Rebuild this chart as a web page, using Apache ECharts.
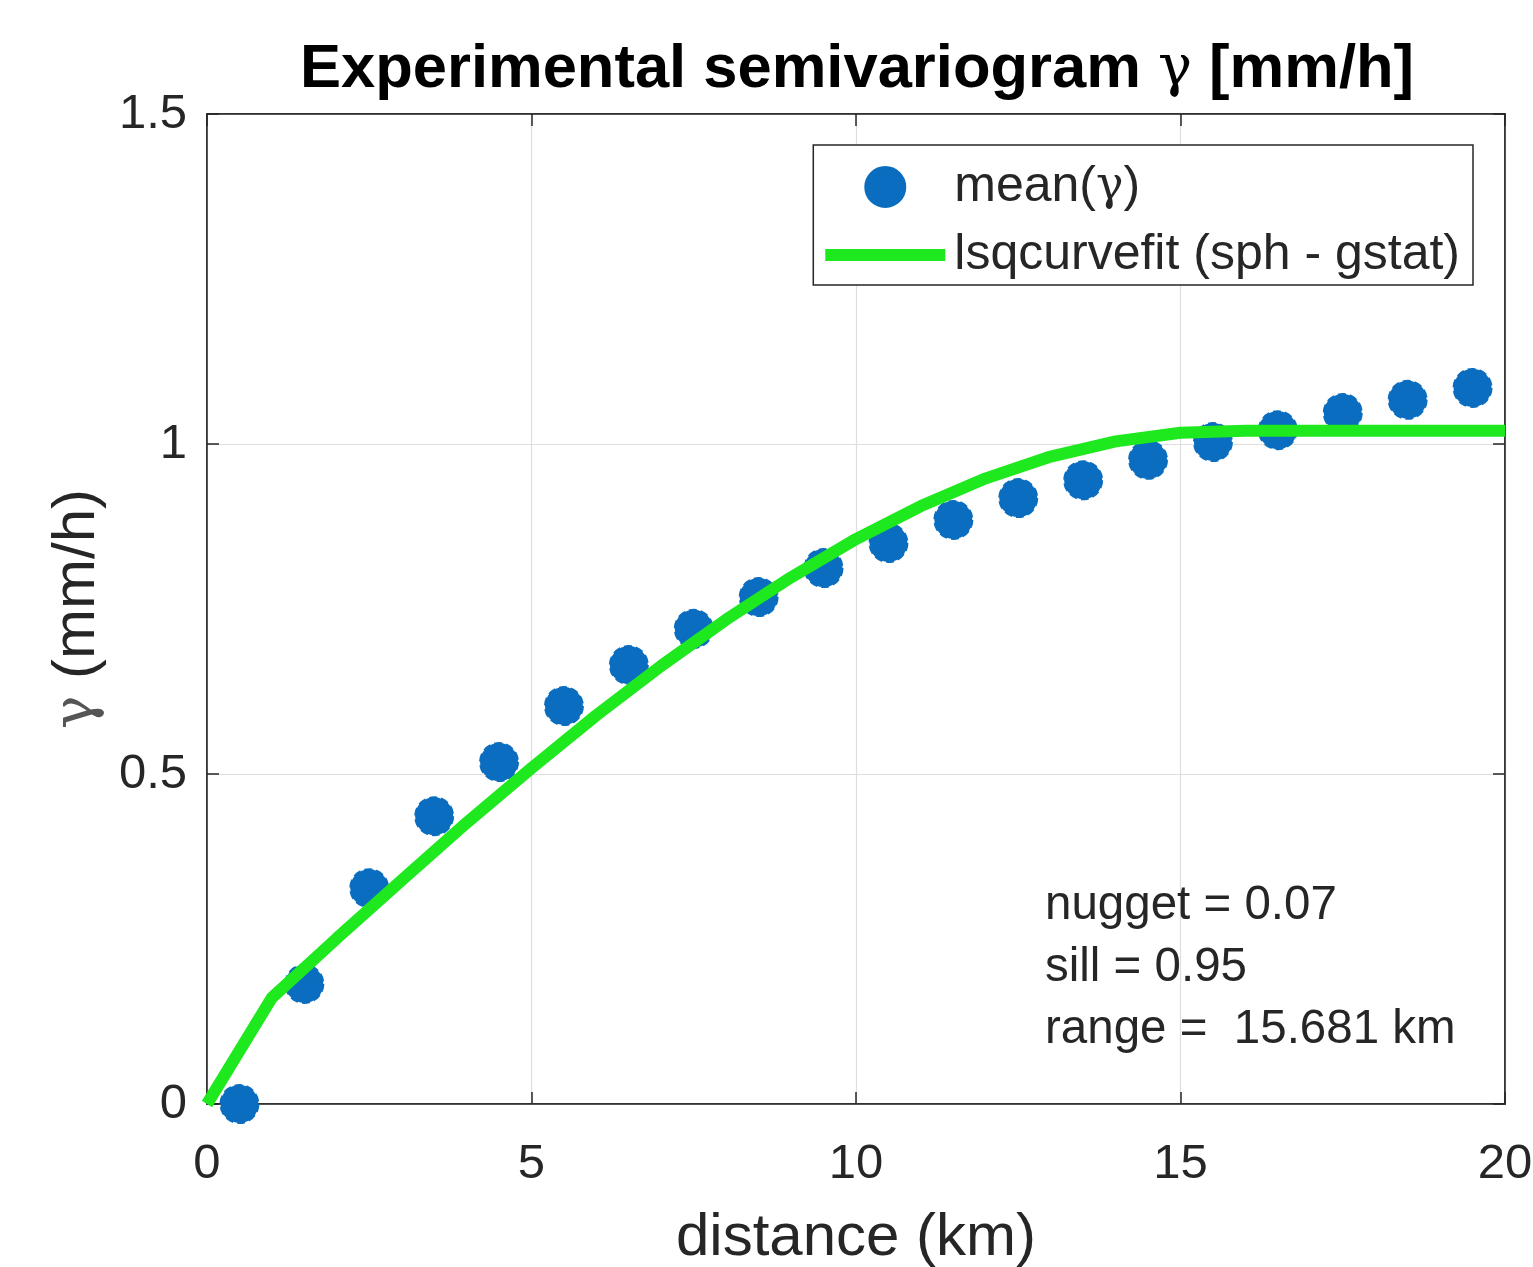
<!DOCTYPE html>
<html>
<head>
<meta charset="utf-8">
<script src="https://cdn.jsdelivr.net/npm/echarts@6/dist/echarts.min.js"></script>
<style>html,body{margin:0;padding:0;background:#fff;}#c{width:1533px;height:1267px;}</style>
</head>
<body>
<div id="c"></div>
<script>
// Experimental semivariogram points
const lagX = [0.5,1.5,2.5,3.5,4.5,5.5,6.5,7.5,8.5,9.5,10.5,11.5,12.5,13.5,14.5,15.5,16.5,17.5,18.5,19.5];
const meanGamma = [0.0,0.182,0.327,0.436,0.518,0.603,0.665,0.720,0.768,0.812,0.850,0.885,0.918,0.945,0.976,1.003,1.021,1.047,1.067,1.085];
// Fitted spherical model (sampled at integer distances)
const fitX = [0,1,2,3,4,5,6,7,8,9,10,11,12,13,14,15,16,17,18,19,20];
const fitGamma = [0,0.161,0.251,0.339,0.426,0.509,0.589,0.664,0.734,0.798,0.856,0.906,0.948,0.981,1.004,1.017,1.02,1.02,1.02,1.02,1.02];
const xTicks = [0,5,10,15,20];
const yTicks = [0,0.5,1,1.5];
const annotation = ['nugget = 0.07','sill = 0.95','range =  15.681 km'];

const FONT = '"Liberation Sans", Arial, Helvetica, sans-serif';
const GFONT = '"DejaVu Serif", "Liberation Serif", serif';
const TXT = '#262626';
const chart = echarts.init(document.getElementById('c'));

function tick() { return {show: true, inside: true, length: 12, lineStyle: {color: TXT, width: 1.5}}; }
function line() { return {show: true, onZero: false, lineStyle: {color: TXT, width: 1.5}}; }

chart.setOption({
  backgroundColor: '#fff',
  animation: false,
  grid: {left: 207, top: 114, right: 28, bottom: 163, show: true, borderColor: TXT, borderWidth: 1.5,
    containLabel: false, outerBoundsMode: 'none'},
  xAxis: [
    {type: 'value', min: 0, max: 20, interval: 5, position: 'bottom',
      name: 'distance (km)', nameLocation: 'middle', nameGap: 104,
      nameTextStyle: {fontFamily: FONT, fontSize: 60, color: TXT},
      axisLine: line(), axisTick: tick(),
      axisLabel: {fontFamily: FONT, fontSize: 49, color: TXT, margin: 36,
        formatter: v => (xTicks.indexOf(v) >= 0 ? String(v) : '')},
      splitLine: {show: true, lineStyle: {color: '#dedede', width: 1.2}}},
    {type: 'value', min: 0, max: 20, interval: 5, position: 'top',
      axisLine: line(), axisTick: tick(), axisLabel: {show: false}, splitLine: {show: false}}
  ],
  yAxis: [
    {type: 'value', min: 0, max: 1.5, interval: 0.5, position: 'left',
      name: '{g|\u03b3} (mm/h)', nameLocation: 'middle', nameGap: 100,
      nameTextStyle: {fontFamily: FONT, fontSize: 60, color: TXT,
        rich: {g: {fontFamily: GFONT, fontSize: 56, color: '#555'}}},
      axisLine: line(), axisTick: tick(),
      axisLabel: {fontFamily: FONT, fontSize: 49, color: TXT, margin: 20,
        formatter: v => (yTicks.indexOf(v) >= 0 ? String(v) : '')},
      splitLine: {show: true, lineStyle: {color: '#dedede', width: 1.2}}},
    {type: 'value', min: 0, max: 1.5, interval: 0.5, position: 'right',
      axisLine: line(), axisTick: tick(), axisLabel: {show: false}, splitLine: {show: false}}
  ],
  legend: {
    right: 60, top: 145, orient: 'vertical', align: 'left',
    backgroundColor: '#fff', borderColor: TXT, borderWidth: 1.5,
    padding: [17, 13, 5, 6], itemWidth: 120, itemHeight: 40, itemGap: 18,
    textStyle: {fontFamily: FONT, fontSize: 50, color: TXT, padding: [0,0,0,4],
      rich: {g: {fontFamily: GFONT, fontSize: 46, color: TXT}}},
    formatter: name => name.replace('\u03b3', '{g|\u03b3}'),
    data: [
      {name: 'mean(\u03b3)', icon: 'circle', itemStyle: {opacity: 1}},
      {name: 'lsqcurvefit (sph - gstat)', itemStyle: {opacity: 0, borderWidth: 0},
        lineStyle: {width: 12, color: '#1ee81e', opacity: 1}}
    ]
  },
  graphic: [
    {type: 'text', x: 857, y: 39, z: 10,
      style: {text: 'Experimental semivariogram {g|\u03b3} [mm/h]', fontFamily: FONT, fontWeight: 'bold', fontSize: 61.5, fill: '#000', align: 'center',
        rich: {g: {fontFamily: GFONT, fontWeight: 'normal', fontSize: 57, fill: '#000'}}}},
    {type: 'text', left: 1045, top: 875, z: 10,
      style: {text: annotation.join('\n'), fontFamily: FONT, fontSize: 47.5, lineHeight: 62, fill: TXT}}
  ],
  series: [
    {
      name: 'mean(\u03b3)', type: 'scatter', symbol: 'circle', symbolSize: 38,
      itemStyle: {color: '#0a6dbf', borderColor: '#0a6dbf', borderWidth: 2, borderType: 'dashed', opacity: 1},
      data: lagX.map((x, i) => [x, meanGamma[i]]), z: 2
    },
    {
      name: 'lsqcurvefit (sph - gstat)', type: 'line', showSymbol: false, symbol: 'none', smooth: false,
      lineStyle: {color: '#1ee81e', width: 12}, itemStyle: {color: '#1ee81e'},
      data: fitX.map((x, i) => [x, fitGamma[i]]), z: 3
    }
  ]
});
</script>
</body>
</html>
